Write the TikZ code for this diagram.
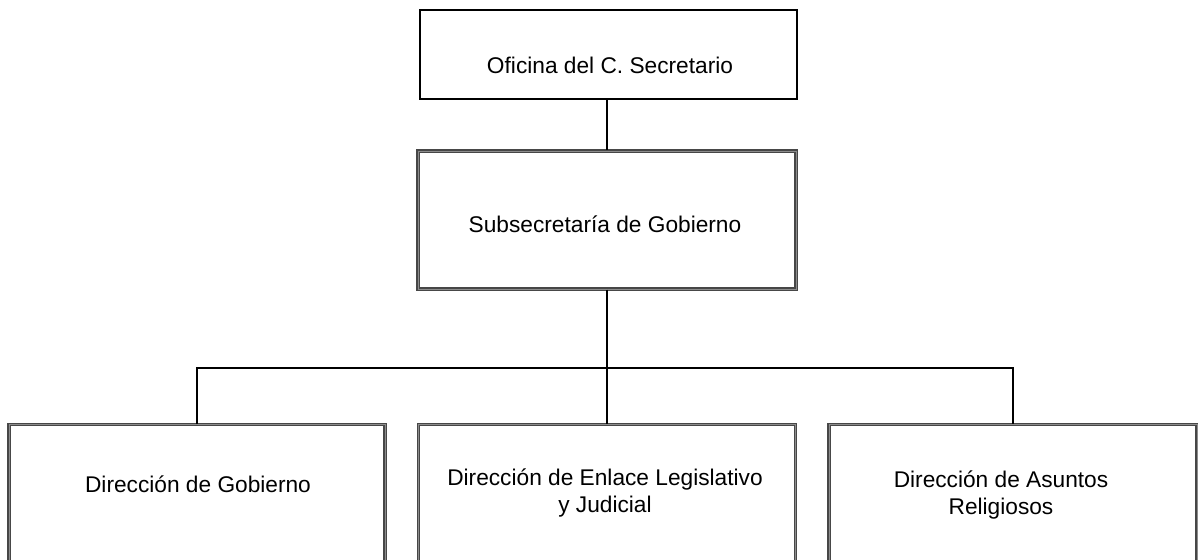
\documentclass[tikz,border=0pt]{standalone}
\usepackage{fontspec}
\setmainfont{Liberation Sans}
\usetikzlibrary{positioning}

\tikzset{
  headbox/.style={draw=black, line width=2.6pt, minimum width=377pt, minimum height=89pt},
  unitbox/.style={draw=black!72, double=black!45, double distance=1pt, line width=1.1pt, minimum height=138pt},
  lowbox/.style={unitbox, anchor=north, minimum height=176pt},
  boxtext/.style={align=center, font=\fontsize{22.7}{27}\selectfont},
  link/.style={draw=black, line width=2pt}
}

\begin{document}
\begin{tikzpicture}[x=1pt, y=-1pt]
\useasboundingbox (0,0) rectangle (1198,559);

\node [headbox] (ofi) at (608.5,54.5) {};
\node [boxtext] (ofi text) at (610,65) {Oficina del C. Secretario};

\node [unitbox, minimum width=378pt] (sub) at (607,220) {};
\node [boxtext] (sub text) at (605,224) {Subsecretaría de Gobierno};

\node [lowbox, minimum width=376pt] (gob) at (197,424) {};
\node [boxtext] (gob text) at (198,484) {Dirección de Gobierno};

\node [lowbox, minimum width=377pt] (enl) at (607,424) {};
\node [boxtext] (enl text) at (605,493) {Dirección de Enlace Legislativo\\ y Judicial};

\node [lowbox, minimum width=368pt] (rel) at (1013,424) {};
\node [boxtext] (rel text) at (1001,495) {Dirección de Asuntos\\ Religiosos};

\coordinate (bus) at (607,368);

\path [link] (sub.north |- ofi.south) -- (sub.north);
\path [link] (sub.south) -- (bus);
\path [link] (gob.north) |- (bus) -| (rel.north);
\path [link] (bus) -- (enl.north);
\end{tikzpicture}
\end{document}
